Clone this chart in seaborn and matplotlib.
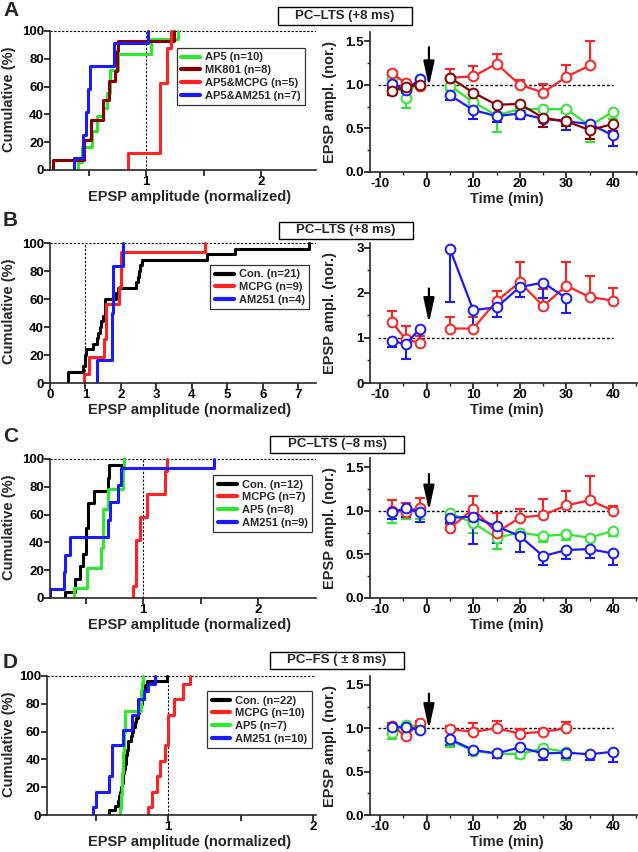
import matplotlib
matplotlib.use("Agg")
import matplotlib.pyplot as plt
from matplotlib.patches import Rectangle
from matplotlib.ticker import MultipleLocator
import seaborn as sns

# ---------------------------------------------------------------------------
# Data
# ---------------------------------------------------------------------------
GREEN = "#2ee82e"
DARKRED = "#8a0000"
RED = "#ff2222"
BLUE = "#1a1aff"
BLACK = "#000000"

# cumulative plots: individual normalized EPSP amplitudes
A_AP5 = [0.41, 0.44, 0.44, 0.53, 0.53, 0.57, 0.57, 0.63, 0.66, 0.66,
         0.69, 0.69, 0.69, 0.76, 0.76, 1.04, 1.04, 1.28]
A_MK801 = [0.19, 0.46, 0.46, 0.52, 0.52, 0.63, 0.63, 0.68, 0.68, 0.73,
           0.75, 0.75, 0.76, 1.24]
A_AP5_MCPG = [0.84, 1.12, 1.12, 1.12, 1.12, 1.18, 1.18, 1.22]
A_AP5_AM251 = [0.374, 0.455, 0.455, 0.475, 0.475, 0.492, 0.492, 0.513,
               0.513, 0.724, 0.724, 1.02]

B_CON = [0.52, 0.52, 0.94, 0.99, 0.99, 1.02, 1.22, 1.32, 1.36, 1.41, 1.45,
         1.50, 1.55, 1.55, 1.55, 1.85, 1.93, 2.42, 2.47, 2.50, 2.55, 2.60,
         4.42, 5.22, 7.29]
B_MCPG = [0.95, 1.10, 1.10, 1.51, 1.51, 1.57, 1.57, 1.57, 1.57, 1.95, 1.95,
          2.00, 2.00, 2.00, 2.00, 4.36]
B_AM251 = [1.33, 1.76, 1.76, 1.78, 1.78, 2.06]

C_CON = [0.32, 0.41, 0.41, 0.45, 0.45, 0.48, 0.48, 0.50, 0.50, 0.50, 0.50,
         0.52, 0.52, 0.52, 0.52, 0.57, 0.57, 0.69, 0.69, 0.70, 0.70, 0.83]
C_MCPG = [0.91, 0.94, 0.94, 0.94, 0.94, 0.97, 0.97, 1.03, 1.03, 1.19, 1.19,
          1.21]
C_AP5 = [0.40, 0.51, 0.51, 0.63, 0.63, 0.65, 0.65, 0.65, 0.65, 0.69, 0.69,
         0.82, 0.82, 0.83]
C_AM251 = [0.19, 0.31, 0.31, 0.32, 0.32, 0.36, 0.36, 0.69, 0.69, 0.71, 0.71,
           0.78, 0.78, 0.81, 0.81, 1.61]

D_CON = [0.59, 0.63, 0.65, 0.66, 0.67, 0.675, 0.68, 0.685, 0.69, 0.695,
         0.70, 0.705, 0.71, 0.715, 0.72, 0.725, 0.74, 0.75, 0.76, 0.77,
         0.78, 0.79, 0.80, 0.81, 0.82, 0.83, 0.835, 0.84, 0.855, 0.99]
D_MCPG = [0.86, 0.89, 0.89, 0.92, 0.92, 0.945, 0.945, 0.98, 0.98, 1.00,
          1.00, 1.00, 1.00, 1.04, 1.04, 1.10, 1.10, 1.15]
D_AP5 = [0.67, 0.672, 0.675, 0.678, 0.68, 0.682, 0.685, 0.687, 0.69, 0.692,
         0.695, 0.697, 0.70, 0.70, 0.70, 0.81, 0.81, 0.815, 0.82, 0.825]
D_AM251 = [0.48, 0.50, 0.50, 0.59, 0.59, 0.61, 0.61, 0.61, 0.61, 0.69, 0.69,
           0.75, 0.75, 0.79, 0.79, 0.83, 0.86, 0.91]

# time courses (min); pre = first three points
TIME = [-7.5, -4.5, -1.5, 5, 10, 15, 20, 25, 30, 35, 40]

A_TC_AP5 = [1.08, 0.85, 1.07, 0.99, 0.80, 0.65, 0.72, 0.72, 0.72, 0.53, 0.69]
A_TC_AP5_ERR = [0.20, 0.12, 0.02, 0.05, 0.06, 0.19, 0.05, 0.03, 0.04, 0.19, 0.08]
A_TC_MK801 = [0.93, 0.97, 1.00, 1.08, 0.91, 0.77, 0.78, 0.62, 0.58, 0.48, 0.55]
A_TC_MK801_ERR = [0.05, 0.04, 0.03, 0.03, 0.03, 0.03, 0.04, 0.10, 0.05, 0.10, 0.08]
A_TC_MCPG = [1.13, 1.02, 0.99, 1.08, 1.095, 1.24, 1.00, 0.91, 1.09, 1.22]
A_TC_MCPG_ERR = [0.03, 0.02, 0.02, 0.10, 0.12, 0.11, 0.05, 0.10, 0.13, 0.28]
A_TC_AM251 = [1.01, 0.94, 1.06, 0.88, 0.71, 0.64, 0.67, 0.61, 0.58, 0.55, 0.42]
A_TC_AM251_ERR = [0.05, 0.04, 0.02, 0.06, 0.10, 0.07, 0.06, 0.09, 0.10, 0.04, 0.12]

B_TC_MCPG = [1.36, 0.97, 0.89, 1.21, 1.21, 1.82, 2.24, 1.71, 2.16, 1.91, 1.83]
B_TC_MCPG_ERR = [0.23, 0.30, 0.15, 0.25, 0.25, 0.23, 0.45, 0.37, 0.52, 0.46, 0.28]
B_TC_AM251 = [0.94, 0.86, 1.20, 2.98, 1.62, 1.68, 2.13, 2.23, 1.88]
B_TC_AM251_ERR = [0.14, 0.32, 0.30, 1.17, 0.41, 0.21, 0.22, 0.35, 0.33]

C_TC_MCPG = [1.00, 0.99, 1.03, 0.80, 1.02, 0.75, 0.92, 0.95, 1.06, 1.12, 1.00]
C_TC_MCPG_ERR = [0.12, 0.10, 0.12, 0.05, 0.15, 0.22, 0.10, 0.18, 0.17, 0.28, 0.05]
C_TC_AP5 = [0.98, 1.01, 1.00, 0.97, 0.86, 0.69, 0.75, 0.71, 0.73, 0.69, 0.77]
C_TC_AP5_ERR = [0.12, 0.10, 0.10, 0.10, 0.12, 0.13, 0.05, 0.07, 0.07, 0.04, 0.06]
C_TC_AM251 = [0.98, 1.03, 0.98, 0.92, 0.93, 0.82, 0.71, 0.48, 0.55, 0.56, 0.51]
C_TC_AM251_ERR = [0.08, 0.10, 0.11, 0.06, 0.31, 0.19, 0.18, 0.10, 0.10, 0.10, 0.13]

D_TC_MCPG = [1.03, 0.91, 1.06, 0.99, 0.96, 1.00, 0.94, 0.96, 1.00]
D_TC_MCPG_ERR = [0.03, 0.02, 0.02, 0.04, 0.10, 0.08, 0.05, 0.03, 0.07]
D_TC_AP5 = [0.95, 1.04, 1.02, 0.86, 0.74, 0.71, 0.70, 0.77, 0.73]
D_TC_AP5_ERR = [0.07, 0.03, 0.03, 0.08, 0.04, 0.05, 0.04, 0.03, 0.10]
D_TC_AM251 = [1.01, 1.02, 0.98, 0.875, 0.75, 0.71, 0.78, 0.71, 0.72, 0.70, 0.73]
D_TC_AM251_ERR = [0.03, 0.03, 0.02, 0.07, 0.06, 0.05, 0.06, 0.07, 0.06, 0.06, 0.12]

# ---------------------------------------------------------------------------
# Style
# ---------------------------------------------------------------------------
sns.set_theme(style="ticks")
plt.rcParams["font.family"] = ["Liberation Sans", "DejaVu Sans"]
plt.rcParams["font.weight"] = "bold"
plt.rcParams["axes.labelweight"] = "bold"
plt.rcParams["axes.unicode_minus"] = False
plt.rcParams["axes.linewidth"] = 1.2
plt.rcParams["xtick.major.width"] = 1.1
plt.rcParams["ytick.major.width"] = 1.1
plt.rcParams["xtick.minor.width"] = 1.0
plt.rcParams["ytick.minor.width"] = 1.0

W, H = 638, 852
fig = plt.figure(figsize=(W / 100, H / 100), dpi=100)
fig.patch.set_facecolor("white")

TICK_FS = 9.5
LABEL_FS = 10.5


def px_axes(left, top, right, bottom):
    ax = fig.add_axes([left / W, 1 - bottom / H, (right - left) / W, (bottom - top) / H])
    ax.px_box = (left, top, right, bottom)
    return ax


def style_axes(ax):
    sns.despine(ax=ax)
    ax.tick_params(direction="out", length=4, labelsize=TICK_FS, pad=0.5, colors="black")
    ax.tick_params(which="minor", direction="out", length=2.5)
    for lab in ax.get_xticklabels() + ax.get_yticklabels():
        lab.set_fontweight("bold")


def place_labels(ax, ylabel_right_px, xlabel_center_px, xlabel_gap_px):
    left, top, right, bottom = ax.px_box
    ax.yaxis.set_label_coords((ylabel_right_px - left) / (right - left), 0.5)
    ax.xaxis.set_label_coords((xlabel_center_px - left) / (right - left),
                              -xlabel_gap_px / (bottom - top))


def cdf_panel(ax, groups, xlim, xticks, xticklabels, legend_anchor):
    for name, vals, col in groups:
        sns.ecdfplot(x=vals, stat="percent", color=col, lw=2.2, ax=ax, label=name)
    ax.set_xlim(*xlim)
    ax.set_ylim(0, 102)
    ax.spines["left"].set_bounds(0, 100)
    ax.axhline(100, color="black", lw=0.8, ls=(0, (2, 1.5)), zorder=0)
    ax.axvline(1, ymax=100 / 102, color="black", lw=0.8, ls=(0, (2, 1.5)), zorder=0)
    ax.set_yticks([0, 20, 40, 60, 80, 100])
    ax.set_xticks(xticks)
    ax.set_xticklabels(xticklabels)
    ax.set_ylabel("Cumulative (%)", fontsize=10.5, fontweight="bold")
    ax.set_xlabel("EPSP amplitude (normalized)", fontsize=LABEL_FS, fontweight="bold")
    place_labels(ax, 16, 190, 20)
    style_axes(ax)
    leg = ax.legend(loc="upper right", bbox_to_anchor=legend_anchor, borderaxespad=0,
                    frameon=True, fancybox=False, edgecolor="black",
                    prop={"size": 8, "weight": "bold"}, handlelength=1.7,
                    handletextpad=0.45, borderpad=0.4, labelspacing=0.25)
    leg.get_frame().set_linewidth(0.9)
    for line in leg.get_lines():
        line.set_linewidth(3)


def tc_panel(ax, series, ylim, major, minor, yticklabels, arrow):
    for mean, err, col, up in series:
        t = TIME[:len(mean)]
        lo = [0 if up else e for e in err]
        hi = [e if up else 0 for e in err]
        ax.errorbar(t, mean, yerr=[lo, hi], fmt="none", ecolor=col,
                    elinewidth=1.5, capsize=3.5, capthick=1.5, zorder=2)
        for seg in (slice(0, 3), slice(3, None)):
            sns.lineplot(x=t[seg], y=mean[seg], ax=ax, color=col, lw=1.6,
                         marker="o", markersize=7, markerfacecolor="white",
                         markeredgecolor=col, markeredgewidth=1.4, zorder=3)
    ax.plot([-10.5, 40], [1, 1], color="black", lw=1, ls=(0, (2, 1.5)), zorder=1)
    ax.annotate("", xy=(0.5, arrow[1]), xytext=(0.5, arrow[0]),
                arrowprops=dict(arrowstyle="-|>,head_length=1.0,head_width=0.22",
                                color="black", lw=1.6, mutation_scale=15,
                                shrinkA=0, shrinkB=0), zorder=5)
    ax.set_xlim(-12.15, 45.15)
    ax.set_ylim(*ylim)
    ax.set_xticks([-10, 0, 10, 20, 30, 40])
    ax.xaxis.set_minor_locator(MultipleLocator(5))
    ax.set_yticks(major)
    ax.set_yticklabels(yticklabels)
    ax.yaxis.set_minor_locator(MultipleLocator(minor))
    ax.set_ylabel("EPSP ampl. (nor.)", fontsize=10.5, fontweight="bold")
    ax.set_xlabel("Time (min)", fontsize=LABEL_FS, fontweight="bold")
    place_labels(ax, 337, 507, 20)
    style_axes(ax)


def title_box(cx, cy, w, h, text):
    fig.add_artist(Rectangle(((cx - w / 2) / W, 1 - (cy + h / 2) / H), w / W, h / H,
                             transform=fig.transFigure, fill=False,
                             edgecolor="black", lw=1.0))
    fig.text(cx / W, 1 - cy / H, text, ha="center", va="center",
             fontsize=9.5, fontweight="bold")


# ---------------------------------------------------------------------------
# Panels
# ---------------------------------------------------------------------------
half_ticks = [0.5, 1, 1.5, 2]
half_labels = ["", "1", "", "2"]

ax = px_axes(50, 28.2, 316, 170)
cdf_panel(ax, [("AP5 (n=10)", A_AP5, GREEN), ("MK801 (n=8)", A_MK801, DARKRED),
               ("AP5&MCPG (n=5)", A_AP5_MCPG, RED), ("AP5&AM251 (n=7)", A_AP5_AM251, BLUE)],
          (0.165, 2.478), half_ticks, half_labels, (0.959, 0.86))

ax = px_axes(370, 32.3, 637, 172)
tc_panel(ax, [(A_TC_AP5, A_TC_AP5_ERR, GREEN, False),
              (A_TC_MCPG, A_TC_MCPG_ERR, RED, True),
              (A_TC_AM251, A_TC_AM251_ERR, BLUE, False),
              (A_TC_MK801, A_TC_MK801_ERR, DARKRED, False)],
         (0, 1.6), [0, 0.5, 1.0, 1.5], 0.25, ["0.0", "0.5", "1.0", "1.5"], (1.43, 0.98))

ax = px_axes(50, 240.2, 316, 383)
cdf_panel(ax, [("Con. (n=21)", B_CON, BLACK), ("MCPG (n=9)", B_MCPG, RED),
               ("AM251 (n=4)", B_AM251, BLUE)],
          (0, 7.5), [0, 1, 2, 3, 4, 5, 6, 7], ["0", "1", "2", "3", "4", "5", "6", "7"],
          (0.974, 0.826))

ax = px_axes(370, 243, 637, 383)
tc_panel(ax, [(B_TC_MCPG, B_TC_MCPG_ERR, RED, True),
              (B_TC_AM251, B_TC_AM251_ERR, BLUE, False)],
         (0, 3.11), [0, 1, 2, 3], 0.5, ["0", "1", "2", "3"], (2.1, 1.33))

ax = px_axes(50, 456.2, 316, 598)
cdf_panel(ax, [("Con. (n=12)", C_CON, BLACK), ("MCPG (n=7)", C_MCPG, RED),
               ("AP5 (n=8)", C_AP5, GREEN), ("AM251 (n=9)", C_AM251, BLUE)],
          (0.19, 2.5), half_ticks, half_labels, (0.985, 0.867))

ax = px_axes(370, 458.3, 637, 598)
tc_panel(ax, [(C_TC_AP5, C_TC_AP5_ERR, GREEN, False),
              (C_TC_MCPG, C_TC_MCPG_ERR, RED, True),
              (C_TC_AM251, C_TC_AM251_ERR, BLUE, False)],
         (0, 1.6), [0, 0.5, 1.0, 1.5], 0.25, ["0.0", "0.5", "1.0", "1.5"], (1.42, 1.0))

ax = px_axes(47, 673.2, 316, 815)
cdf_panel(ax, [("Con. (n=22)", D_CON, BLACK), ("MCPG (n=10)", D_MCPG, RED),
               ("AP5 (n=7)", D_AP5, GREEN), ("AM251 (n=10)", D_AM251, BLUE)],
          (0.163, 2.02), half_ticks, half_labels, (0.985, 0.874))

ax = px_axes(370, 676.3, 637, 815)
tc_panel(ax, [(D_TC_AP5, D_TC_AP5_ERR, GREEN, False),
              (D_TC_MCPG, D_TC_MCPG_ERR, RED, True),
              (D_TC_AM251, D_TC_AM251_ERR, BLUE, False)],
         (0, 1.6), [0, 0.5, 1.0, 1.5], 0.25, ["0.0", "0.5", "1.0", "1.5"], (1.40, 0.99))

# title boxes and panel letters
title_box(345, 16, 134, 18, "PC\u2013LTS (+8 ms)")
title_box(346, 230, 134, 17, "PC\u2013LTS (+8 ms)")
title_box(337, 444, 134, 17, "PC\u2013LTS (\u20138 ms)")
title_box(337, 660, 134, 17, "PC\u2013FS ( \u00b1 8 ms)")

for letter, y in [("A", 10), ("B", 221), ("C", 437), ("D", 662)]:
    fig.text(3 / W, 1 - y / H, letter, ha="left", va="center",
             fontsize=15, fontweight="bold")

fig.savefig("out.png", dpi=100)
